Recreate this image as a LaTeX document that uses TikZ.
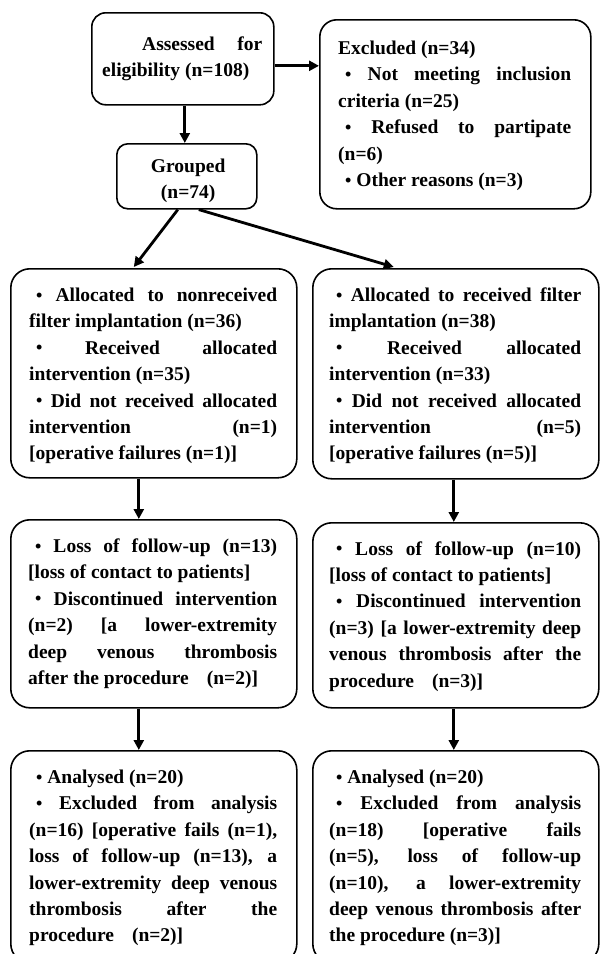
\documentclass[tikz,border=0pt]{standalone}
\usepackage{fontspec}
\setmainfont{Liberation Serif}
\usetikzlibrary{arrows.meta}
\newcommand\jl[1]{\hbox to\hsize{#1}}
\newcommand\lastl[1]{\hbox{#1}}
\newcommand\cl[1]{\hbox to\hsize{\hfil#1\hfil}}
\newcommand\tb[2]{\vtop{\hsize=#1\relax #2}}
\newcommand\bul{\hspace*{7pt}\raisebox{0.5pt}{\fontsize{18}{18}\selectfont •}\space}
\tikzset{
  box/.style={draw, line width=1.6pt, rounded corners=#1, anchor=north west, inner sep=0pt},
  box/.default=19pt,
  txt/.style={inner sep=0pt, anchor=base west, font=\fontsize{19.5}{26.4}\selectfont\bfseries},
  arr/.style={line width=2.8pt, -{Triangle[length=10pt,width=10pt]}}
}
\begin{document}
\begin{tikzpicture}[x=1pt,y=1pt]
\useasboundingbox (0,0) rectangle (601,-954);
\clip (0,0) rectangle (601,-954);
% boxes
\node[box=14pt, minimum width=182pt, minimum height=92pt] (ass) at (91,-12) {};
\node[box=17pt, minimum width=271pt, minimum height=189pt] (exc) at (319,-19) {};
\node[box=11pt, minimum width=140pt, minimum height=65pt] (grp) at (116,-143) {};
\node[box, minimum width=286pt, minimum height=209pt] (r2l) at (10,-268) {};
\node[box, minimum width=286pt, minimum height=210pt] (r2r) at (312,-268) {};
\node[box, minimum width=286pt, minimum height=188pt] (r3l) at (10,-519) {};
\node[box, minimum width=286pt, minimum height=185pt] (r3r) at (312,-522) {};
\node[box, minimum width=286pt, minimum height=212pt] (r4l) at (10,-750) {};
\node[box, minimum width=286pt, minimum height=212pt] (r4r) at (312,-750) {};
% texts
\node[txt] (tass) at (102,-50) {\tb{160pt}{%
\jl{\hspace*{40pt}Assessed for}
\lastl{eligibility (n=108)}}};
\node[txt] (texc) at (338,-54.5) {\tb{233pt}{%
\lastl{Excluded (n=34)}
\jl{\bul Not meeting inclusion}
\lastl{criteria (n=25)}
\jl{\bul Refused to partipate}
\lastl{(n=6)}
\lastl{\bul Other reasons (n=3)}}};
\node[txt] (tgrp) at (118,-172.5) {\tb{140pt}{%
\cl{Grouped}
\cl{(n=74)}}};
\node[txt] (t2l) at (29,-301.5) {\tb{248pt}{%
\jl{\bul Allocated to nonreceived}
\lastl{filter implantation (n=36)}
\jl{\bul Received allocated}
\lastl{intervention (n=35)}
\jl{\bul Did not received allocated}
\jl{intervention (n=1)}
\lastl{[operative failures (n=1)]}}};
\node[txt] (t2r) at (329,-301.5) {\tb{252pt}{%
\jl{\bul Allocated to received filter}
\lastl{implantation (n=38)}
\jl{\bul Received allocated}
\lastl{intervention (n=33)}
\jl{\bul Did not received allocated}
\jl{intervention (n=5)}
\lastl{[operative failures (n=5)]}}};
\node[txt] (t3l) at (28,-552.5) {\tb{249pt}{%
\jl{\bul Loss of follow-up (n=13)}
\lastl{[loss of contact to patients]}
\jl{\bul Discontinued intervention}
\jl{(n=2) [a lower-extremity}
\jl{deep venous thrombosis}
\lastl{after the procedure\hspace{18pt}(n=2)]}}};
\node[txt] (t3r) at (329,-555) {\tb{252pt}{%
\jl{\bul Loss of follow-up (n=10)}
\lastl{[loss of contact to patients]}
\jl{\bul Discontinued intervention}
\jl{(n=3) [a lower-extremity deep}
\jl{venous thrombosis after the}
\lastl{procedure\hspace{18pt}(n=3)]}}};
\node[txt] (t4l) at (29,-783.5) {\tb{248pt}{%
\lastl{\bul Analysed (n=20)}
\jl{\bul Excluded from analysis}
\jl{(n=16) [operative fails (n=1),}
\jl{loss of follow-up (n=13), a}
\jl{lower-extremity deep venous}
\jl{thrombosis after the}
\lastl{procedure\hspace{18pt}(n=2)]}}};
\node[txt] (t4r) at (329,-783.5) {\tb{252pt}{%
\lastl{\bul Analysed (n=20)}
\jl{\bul Excluded from analysis}
\jl{(n=18) [operative fails}
\jl{(n=5), loss of follow-up}
\jl{(n=10), a lower-extremity}
\jl{deep venous thrombosis after}
\lastl{the procedure (n=3)]}}};
% arrows
\draw[arr] ([yshift=-7pt]ass.east) -- ([yshift=-7pt]ass.east -| exc.west);
\draw[arr] ([xshift=2pt]ass.south) -- ([xshift=2pt]ass.south |- grp.north);
\draw[arr] ([xshift=-9pt]grp.south) -- ([xshift=-20pt,yshift=1pt]r2l.north);
\draw[arr] ([xshift=12pt]grp.south) -- ([xshift=-62pt,yshift=1pt]r2r.north);
\draw[arr] ([xshift=-15pt]r2l.south) -- ([xshift=-15pt]r2l.south |- r3l.north);
\draw[arr] ([xshift=-2pt]r2r.south) -- ([xshift=-2pt]r2r.south |- r3r.north);
\draw[arr] ([xshift=-15pt]r3l.south) -- ([xshift=-15pt]r3l.south |- r4l.north);
\draw[arr] ([xshift=-2pt]r3r.south) -- ([xshift=-2pt]r3r.south |- r4r.north);
\end{tikzpicture}
\end{document}
